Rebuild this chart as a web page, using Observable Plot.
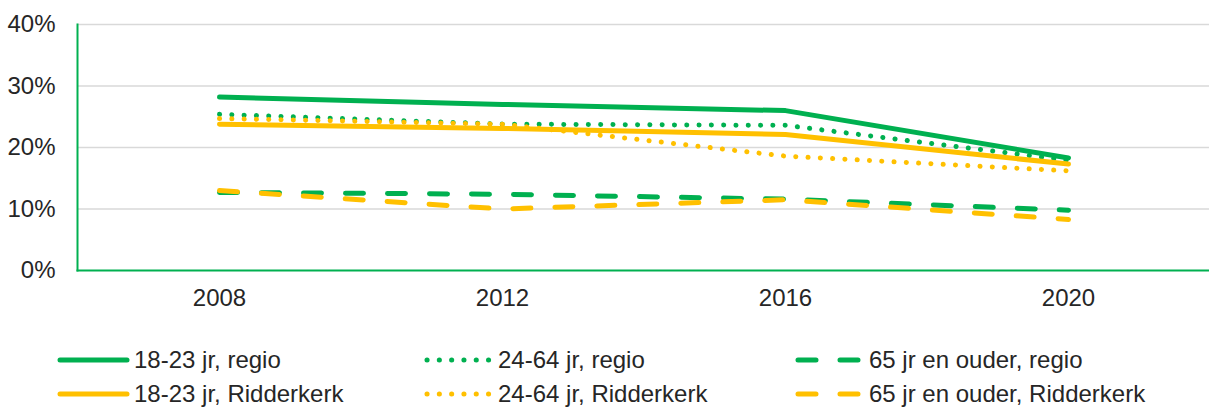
<!DOCTYPE html>
<html>
<head>
<meta charset="utf-8">
<script src="https://cdn.jsdelivr.net/npm/d3@7"></script>
<script src="https://cdn.jsdelivr.net/npm/@observablehq/plot@0.6"></script>
<style>
  html, body { margin: 0; padding: 0; background: #fff; }
  #wrap { position: relative; width: 1209px; height: 410px; font-family: "Liberation Sans", Arial, sans-serif; color: #262626; }
  #legend { position: absolute; left: 0; top: 0; width: 1209px; height: 410px; pointer-events: none; }
  .item { position: absolute; display: flex; align-items: center; font-size: 24px; white-space: nowrap; }
  .item svg { display: block; margin-right: 4px; }
</style>
</head>
<body>
<div id="wrap"><div id="chart"></div><div id="legend"></div></div>
<script>
const years = ["2008", "2012", "2016", "2020"];
const seriesNames = [
  "18-23 jr, regio", "24-64 jr, regio", "65 jr en ouder, regio",
  "18-23 jr, Ridderkerk", "24-64 jr, Ridderkerk", "65 jr en ouder, Ridderkerk"
];
const regio1823 = [28.2, 27.0, 26.0, 18.3];
const regio2464 = [25.4, 23.8, 23.6, 17.9];
const regio65   = [12.7, 12.4, 11.6, 9.8];
const ridd1823  = [23.8, 23.1, 22.1, 17.3];
const ridd2464  = [24.7, 23.8, 18.6, 16.2];
const ridd65    = [13.0, 10.0, 11.5, 8.3];
const yTicks = [0, 10, 20, 30, 40];

const allValues = [regio1823, regio2464, regio65, ridd1823, ridd2464, ridd65];
const GREEN = "#00b050", YELLOW = "#ffc000";
const styles = [
  {stroke: GREEN, dash: null}, {stroke: GREEN, dash: "0.1 12.2"}, {stroke: GREEN, dash: "18 24"},
  {stroke: YELLOW, dash: null}, {stroke: YELLOW, dash: "0.1 12.2"}, {stroke: YELLOW, dash: "18 24"}
];

const table = [];
seriesNames.forEach((s, i) => years.forEach((y, j) => table.push({series: s, year: y, value: allValues[i][j]})));

const lineMarks = seriesNames.map((s, i) => Plot.line(table.filter(d => d.series === s), {
  x: "year", y: "value",
  stroke: styles[i].stroke, strokeWidth: 5,
  strokeLinecap: "round", strokeLinejoin: "round",
  strokeDasharray: styles[i].dash
}));

const chart = Plot.plot({
  width: 1209, height: 320,
  marginLeft: 77, marginRight: 0, marginTop: 24, marginBottom: 50,
  style: {fontFamily: '"Liberation Sans", Arial, sans-serif', fontSize: "24px", color: "#262626", background: "#fff"},
  x: {type: "point", domain: years, padding: 0.5, label: null},
  y: {domain: [0, 40], label: null},
  marks: [
    Plot.gridY(yTicks.filter(d => d > 0), {stroke: "#d9d9d9", strokeOpacity: 1, strokeWidth: 1.5}),
    Plot.axisX({tickSize: 0, tickPadding: 18, label: null, fontSize: 24}),
    Plot.axisY(yTicks, {tickSize: 0, tickPadding: 22, tickFormat: d => d + "%", label: null, fontSize: 24}),
    Plot.frame({anchor: "left", stroke: GREEN, strokeWidth: 2}),
    Plot.frame({anchor: "bottom", stroke: GREEN, strokeWidth: 2}),
    ...lineMarks
  ]
});
document.getElementById("chart").appendChild(chart);

// Legend (HTML, below the SVG)
const legend = document.getElementById("legend");
const colX = [57, 424, 795];
const rowY = [360, 394];
seriesNames.forEach((s, i) => {
  const col = i % 3, row = Math.floor(i / 3);
  const div = document.createElement("div");
  div.className = "item";
  div.style.left = colX[col] + "px";
  div.style.top = (rowY[row] - 15) + "px";
  div.style.height = "30px";
  const w = col === 0 ? 73 : 70;
  const sw = d3.create("svg").attr("width", w).attr("height", 10);
  sw.append("line").attr("x1", 3).attr("x2", w - 3).attr("y1", 5).attr("y2", 5)
    .attr("stroke", styles[i].stroke).attr("stroke-width", 5).attr("stroke-linecap", "round")
    .attr("stroke-dasharray", styles[i].dash);
  div.appendChild(sw.node());
  const t = document.createElement("span");
  t.textContent = s;
  div.appendChild(t);
  legend.appendChild(div);
});
</script>
</body>
</html>
